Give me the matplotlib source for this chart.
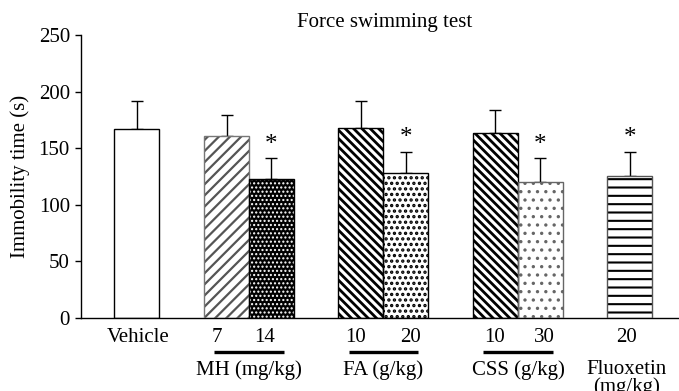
import matplotlib
matplotlib.use("Agg")
import matplotlib.pyplot as plt
from matplotlib.transforms import blended_transform_factory
from matplotlib.lines import Line2D

# ---- data ----
bar_labels = ["Vehicle", "7", "14", "10", "20", "10", "30", "20"]
means = [167, 160.5, 123, 167.5, 128.5, 163, 120.5, 125]
sems = [25, 18.5, 18, 24, 18.5, 20.5, 20.5, 22]
significant = [False, False, True, False, True, False, True, True]
groups = ["MH (mg/kg)", "FA (g/kg)", "CSS (g/kg)"]
group_members = [(1, 2), (3, 4), (5, 6)]
yticks = [0, 50, 100, 150, 200, 250]

# ---- layout / style ----
positions = [1.24, 3.24, 4.23, 6.22, 7.22, 9.21, 10.21, 12.19]
label_pos = [1.27, 3.02, 4.09, 6.09, 7.33, 9.20, 10.29, 12.13]
styles = [
    dict(face="white", hatch=None, hcolor="black", hlw=1.0, edge="black"),
    dict(face="white", hatch="///", hcolor="#555555", hlw=1.6, edge="#777777"),
    dict(face="black", hatch="....", hcolor="white", hlw=1.0, edge="black"),
    dict(face="white", hatch="\\\\\\\\", hcolor="black", hlw=2.0, edge="black"),
    dict(face="white", hatch="...", hcolor="black", hlw=1.6, edge="black"),
    dict(face="white", hatch="\\\\\\\\", hcolor="black", hlw=2.0, edge="black"),
    dict(face="white", hatch="..", hcolor="#666666", hlw=1.2, edge="#666666"),
    dict(face="white", hatch="--", hcolor="black", hlw=1.5, edge="#555555"),
]

font = ["Liberation Serif", "DejaVu Serif"]
plt.rcParams["font.family"] = font
fs = 15

fig = plt.figure(figsize=(6.79, 3.91), dpi=100)
ax = fig.add_axes([81 / 679, 1 - 318 / 391, 598 / 679, (318 - 35) / 391])
ax.set_xlim(0, 598 / 45)
ax.set_ylim(0, 250)

for i, (x, m, s, st) in enumerate(zip(positions, means, sems, styles)):
    ax.bar(x, m, width=1.0, color=st["face"], edgecolor="none", linewidth=0, zorder=2)
    if st["hatch"]:
        with plt.rc_context({"hatch.linewidth": st["hlw"], "hatch.color": st["hcolor"]}):
            b = ax.bar(x, m, width=1.0, color="none", edgecolor=st["hcolor"],
                       hatch=st["hatch"], linewidth=0, zorder=3)
            for p in b:
                if hasattr(p, "set_hatch_linewidth"):
                    p.set_hatch_linewidth(st["hlw"])
    ax.bar(x, m, width=1.0, color="none", edgecolor=st["edge"], linewidth=1.0, zorder=4)
    ax.errorbar(x, m, yerr=[[0], [s]], fmt="none", ecolor="black", elinewidth=1.0,
                capsize=4, capthick=1.0, zorder=1)
    if significant[i]:
        ax.text(x, m + s + 2, "*", ha="center", va="bottom", fontsize=fs + 3, family=font)

ax.spines["top"].set_visible(False)
ax.spines["right"].set_visible(False)
ax.spines["left"].set_linewidth(1.0)
ax.spines["bottom"].set_linewidth(1.0)
ax.set_yticks(yticks)
ax.set_yticklabels([str(v) for v in yticks], fontsize=fs)
ax.tick_params(axis="y", direction="out", length=4, width=1.0, pad=4)
ax.set_xticks([])
ax.set_ylabel("Immobility time (s)", fontsize=fs)
ax.yaxis.set_label_coords((30 - 81) / 598, 0.5)
ax.set_title("Force swimming test", fontsize=fs, pad=6)
ax.title.set_position((0.507, 1.0))

tr = blended_transform_factory(ax.transData, fig.transFigure)
for lp, lab in zip(label_pos, bar_labels):
    ax.text(lp, 1 - 337 / 391, lab, transform=tr, ha="center", va="center", fontsize=fs)

for name, (a, b) in zip(groups, group_members):
    c = (positions[a] + positions[b]) / 2
    fig.add_artist(Line2D([c - 0.77, c + 0.77], [1 - 352 / 391] * 2, transform=tr,
                          color="black", linewidth=2.4, solid_capstyle="butt"))
    ax.text(c, 1 - 370 / 391, name, transform=tr, ha="center", va="center", fontsize=fs)

ax.text(label_pos[7], 1 - 369 / 391, "Fluoxetin", transform=tr, ha="center", va="center", fontsize=fs)
ax.text(label_pos[7], 1 - 387 / 391, "(mg/kg)", transform=tr, ha="center", va="center", fontsize=fs)

fig.savefig("out.png", dpi=100)
